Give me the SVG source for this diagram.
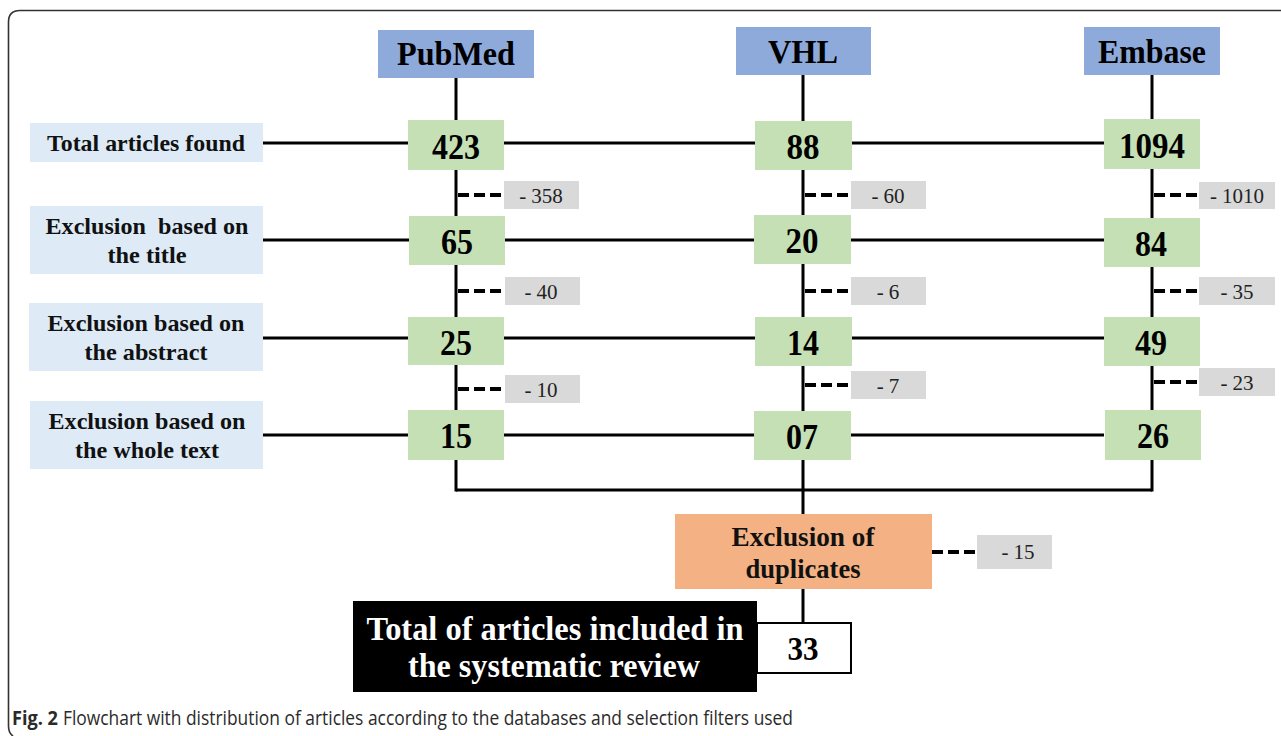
<svg xmlns="http://www.w3.org/2000/svg" width="1281" height="736" viewBox="0 0 1281 736">
<style>
.hdr{fill:#8eaadb}
.lbl{fill:#deebf7}
.num{fill:#c5e0b4}
.ex{fill:#d9d9d9}
.ln{stroke:#000;stroke-width:3;fill:none}
.dash{stroke:#000;stroke-width:4;stroke-dasharray:11 5;fill:none}
text{font-family:"Liberation Serif","Times New Roman",serif;text-anchor:middle}
.th{font-size:34px;font-weight:bold;fill:#000}
.tn{font-size:36px;font-weight:bold;fill:#000}
.tl{font-size:23px;font-weight:bold;fill:#111}
.te{font-size:21px;fill:#222}
.cap{font-family:"Open Sans","Noto Sans",sans-serif;font-size:19.5px;fill:#2a2a2a;text-anchor:start}
</style>
<rect width="1281" height="736" fill="#fff"/>
<path d="M1281,10.5 H20 Q8.5,10.5 8.5,22 V726 Q8.5,733 13,736" fill="none" stroke="#333" stroke-width="1.6"/>

<g id="connectors">
  <line class="ln" x1="456" y1="78" x2="456" y2="491.5"/>
  <line class="ln" x1="803" y1="75" x2="803" y2="514"/>
  <line class="ln" x1="1152" y1="75" x2="1152" y2="491.5"/>
  <line class="ln" x1="456" y1="490" x2="1152" y2="490"/>
  <line class="ln" x1="803" y1="589" x2="803" y2="623"/>
  <line class="ln" x1="263" y1="143" x2="1104" y2="143"/>
  <line class="ln" x1="263" y1="240" x2="1104" y2="240"/>
  <line class="ln" x1="263" y1="338" x2="1104" y2="338"/>
  <line class="ln" x1="263" y1="435" x2="1104" y2="435"/>
  <line class="dash" x1="458" y1="195" x2="504" y2="195"/>
  <line class="dash" x1="805" y1="195" x2="851" y2="195"/>
  <line class="dash" x1="1154" y1="195" x2="1199" y2="195"/>
  <line class="dash" x1="458" y1="291" x2="505" y2="291"/>
  <line class="dash" x1="805" y1="291" x2="851" y2="291"/>
  <line class="dash" x1="1154" y1="291" x2="1199" y2="291"/>
  <line class="dash" x1="458" y1="389" x2="505" y2="389"/>
  <line class="dash" x1="805" y1="385" x2="851" y2="385"/>
  <line class="dash" x1="1154" y1="382" x2="1199" y2="382"/>
  <line class="dash" x1="932" y1="552" x2="977" y2="552"/>
</g>

<g id="hdr-pubmed"><rect class="hdr" x="378" y="30" width="156" height="48"/><text class="th" x="456" y="65" textLength="118" lengthAdjust="spacingAndGlyphs">PubMed</text></g>
<g id="hdr-vhl"><rect class="hdr" x="736" y="27" width="135" height="48"/><text class="th" x="803" y="63" textLength="70" lengthAdjust="spacingAndGlyphs">VHL</text></g>
<g id="hdr-embase"><rect class="hdr" x="1084" y="27" width="136" height="48"/><text class="th" x="1152" y="63" textLength="108" lengthAdjust="spacingAndGlyphs">Embase</text></g>

<g id="lbl-total"><rect class="lbl" x="30" y="123" width="233" height="39"/><text class="tl" x="146" y="151" textLength="198" lengthAdjust="spacingAndGlyphs">Total articles found</text></g>
<g id="lbl-title"><rect class="lbl" x="30" y="206" width="233" height="68"/><text class="tl" x="147" y="234" textLength="203" lengthAdjust="spacingAndGlyphs" xml:space="preserve">Exclusion  based on</text><text class="tl" x="147" y="263" textLength="79" lengthAdjust="spacingAndGlyphs">the title</text></g>
<g id="lbl-abstract"><rect class="lbl" x="29" y="303" width="234" height="68"/><text class="tl" x="146" y="331" textLength="197" lengthAdjust="spacingAndGlyphs">Exclusion based on</text><text class="tl" x="146" y="360" textLength="123" lengthAdjust="spacingAndGlyphs">the abstract</text></g>
<g id="lbl-whole"><rect class="lbl" x="30" y="401" width="233" height="68"/><text class="tl" x="147" y="429" textLength="197" lengthAdjust="spacingAndGlyphs">Exclusion based on</text><text class="tl" x="147" y="458" textLength="144" lengthAdjust="spacingAndGlyphs">the whole text</text></g>

<g id="n-pm-1"><rect class="num" x="408" y="120" width="96" height="50"/><text class="tn" x="456" y="159" textLength="48" lengthAdjust="spacingAndGlyphs">423</text></g>
<g id="n-vhl-1"><rect class="num" x="755" y="121" width="97" height="49"/><text class="tn" x="803" y="159" textLength="33" lengthAdjust="spacingAndGlyphs">88</text></g>
<g id="n-em-1"><rect class="num" x="1104" y="119" width="96" height="50"/><text class="tn" x="1152" y="158" textLength="66" lengthAdjust="spacingAndGlyphs">1094</text></g>

<g id="n-pm-2"><rect class="num" x="409" y="216" width="96" height="49"/><text class="tn" x="457" y="254" textLength="32" lengthAdjust="spacingAndGlyphs">65</text></g>
<g id="n-vhl-2"><rect class="num" x="754" y="215" width="97" height="49"/><text class="tn" x="802" y="253" textLength="33" lengthAdjust="spacingAndGlyphs">20</text></g>
<g id="n-em-2"><rect class="num" x="1104" y="218" width="96" height="49"/><text class="tn" x="1151" y="256" textLength="32" lengthAdjust="spacingAndGlyphs">84</text></g>

<g id="n-pm-3"><rect class="num" x="408" y="317" width="96" height="48"/><text class="tn" x="456" y="355" textLength="32" lengthAdjust="spacingAndGlyphs">25</text></g>
<g id="n-vhl-3"><rect class="num" x="755" y="317" width="97" height="49"/><text class="tn" x="803" y="355" textLength="32" lengthAdjust="spacingAndGlyphs">14</text></g>
<g id="n-em-3"><rect class="num" x="1104" y="317" width="96" height="49"/><text class="tn" x="1151" y="355" textLength="32" lengthAdjust="spacingAndGlyphs">49</text></g>

<g id="n-pm-4"><rect class="num" x="408" y="410" width="96" height="50"/><text class="tn" x="456" y="448" textLength="32" lengthAdjust="spacingAndGlyphs">15</text></g>
<g id="n-vhl-4"><rect class="num" x="754" y="411" width="97" height="49"/><text class="tn" x="802" y="449" textLength="32" lengthAdjust="spacingAndGlyphs">07</text></g>
<g id="n-em-4"><rect class="num" x="1105" y="410" width="96" height="50"/><text class="tn" x="1153" y="448" textLength="32" lengthAdjust="spacingAndGlyphs">26</text></g>

<g id="x-pm-1"><rect class="ex" x="504" y="181" width="75" height="28"/><text class="te" x="541" y="203">- 358</text></g>
<g id="x-vhl-1"><rect class="ex" x="851" y="181" width="75" height="28"/><text class="te" x="888" y="203">- 60</text></g>
<g id="x-em-1"><rect class="ex" x="1199" y="182" width="76" height="27"/><text class="te" x="1237" y="203">- 1010</text></g>
<g id="x-pm-2"><rect class="ex" x="505" y="277" width="75" height="28"/><text class="te" x="541" y="299">- 40</text></g>
<g id="x-vhl-2"><rect class="ex" x="851" y="277" width="75" height="28"/><text class="te" x="888" y="299">- 6</text></g>
<g id="x-em-2"><rect class="ex" x="1199" y="277" width="76" height="28"/><text class="te" x="1237" y="299">- 35</text></g>
<g id="x-pm-3"><rect class="ex" x="505" y="375" width="75" height="28"/><text class="te" x="541" y="397">- 10</text></g>
<g id="x-vhl-3"><rect class="ex" x="851" y="371" width="75" height="28"/><text class="te" x="888" y="393">- 7</text></g>
<g id="x-em-3"><rect class="ex" x="1199" y="368" width="76" height="28"/><text class="te" x="1237" y="390">- 23</text></g>

<g id="dup"><rect x="675" y="514" width="257" height="75" fill="#f4b183"/><text class="tl" x="803" y="546" style="font-size:27px" textLength="143" lengthAdjust="spacingAndGlyphs">Exclusion of</text><text class="tl" x="803" y="578" style="font-size:27px" textLength="115" lengthAdjust="spacingAndGlyphs">duplicates</text></g>
<g id="x-dup"><rect class="ex" x="977" y="535" width="75" height="34"/><text class="te" x="1018" y="559">- 15</text></g>

<g id="total-final"><rect x="353" y="601" width="404" height="91" fill="#000"/><text x="555" y="640" style="font-size:33px;font-weight:bold;fill:#fff" textLength="377" lengthAdjust="spacingAndGlyphs">Total of articles included in</text><text x="554" y="677" style="font-size:33px;font-weight:bold;fill:#fff" textLength="292" lengthAdjust="spacingAndGlyphs">the systematic review</text></g>
<g id="n-33"><rect x="757" y="623" width="94" height="50" fill="#fff" stroke="#000" stroke-width="2"/><text class="tn" x="803" y="660" style="font-size:34px" textLength="31" lengthAdjust="spacingAndGlyphs">33</text></g>

<text class="cap" x="12" y="725" font-weight="bold" textLength="46" lengthAdjust="spacingAndGlyphs">Fig. 2</text>
<text class="cap" x="63" y="725" textLength="730" lengthAdjust="spacingAndGlyphs">Flowchart with distribution of articles according to the databases and selection filters used</text>
</svg>
